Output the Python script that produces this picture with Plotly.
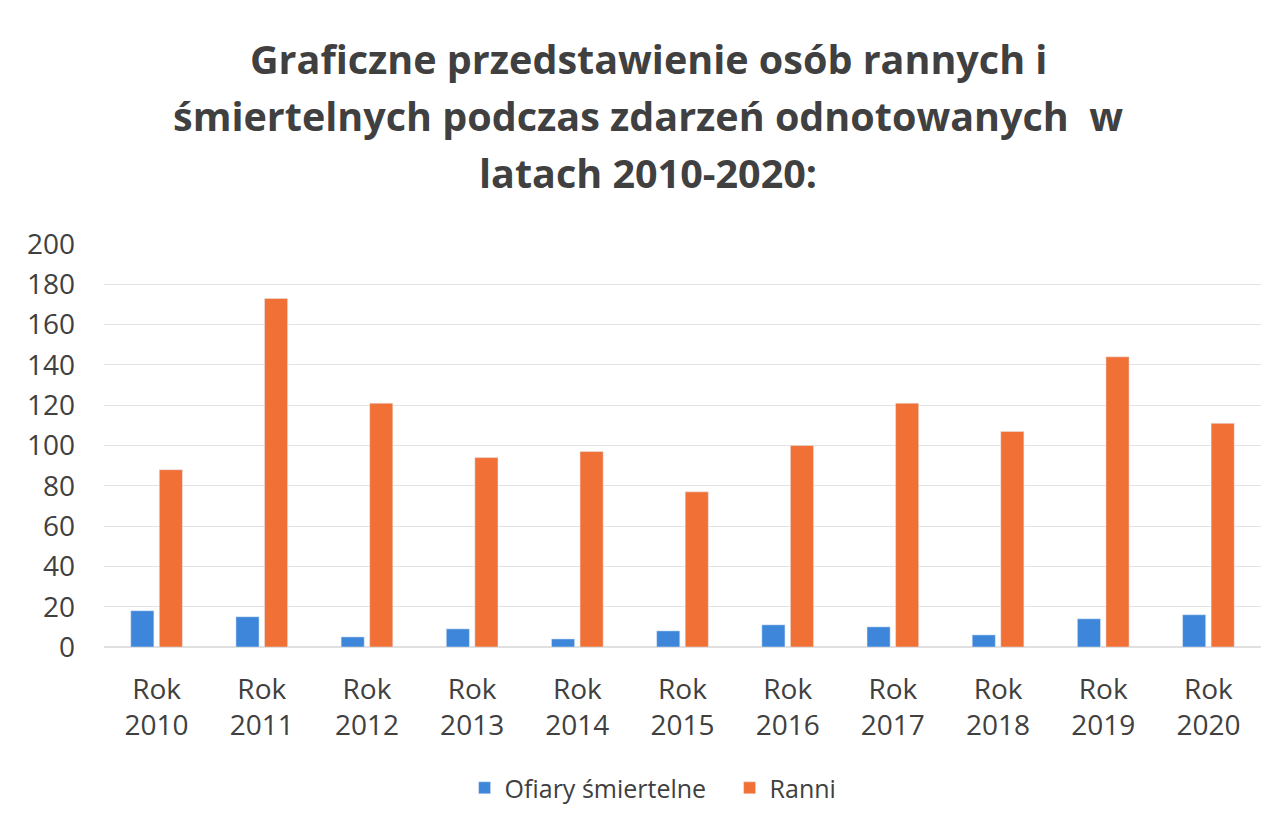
import plotly.graph_objects as go

categories = ["Rok<br>2010", "Rok<br>2011", "Rok<br>2012", "Rok<br>2013", "Rok<br>2014",
              "Rok<br>2015", "Rok<br>2016", "Rok<br>2017", "Rok<br>2018", "Rok<br>2019", "Rok<br>2020"]
ofiary = [18, 15, 5, 9, 4, 8, 11, 10, 6, 14, 16]
ranni = [88, 173, 121, 94, 97, 77, 100, 121, 107, 144, 111]
y_ticks = [0, 20, 40, 60, 80, 100, 120, 140, 160, 180, 200]
title_lines = [
    "Graficzne przedstawienie osób rannych i",
    "śmiertelnych podczas zdarzeń odnotowanych  w",
    "latach 2010-2020:",
]

BLUE = "#3d86da"
ORANGE = "#f07036"
TEXT = "#404040"
FONT = "Open Sans"

W, H = 1261, 812
L, R, T, B = 96, 8, 236, 173
plot_h = H - T - B

fig = go.Figure()
fig.add_trace(go.Bar(x=categories, y=ofiary, name="Ofiary śmiertelne", marker_color=BLUE))
fig.add_trace(go.Bar(x=categories, y=ranni, name="Ranni", marker_color=ORANGE))

# title lines (figure-pixel centres converted to paper coords)
line_centres = [51, 108, 165]
for txt, yc in zip(title_lines, line_centres):
    fig.add_annotation(
        text=txt, xref="paper", yref="paper",
        x=0.4705, y=(H - B - yc) / plot_h, xanchor="center", yanchor="middle",
        showarrow=False, font=dict(family=FONT, size=39.5, color=TEXT, weight="bold"),
    )

fig.update_layout(
    width=W, height=H,
    paper_bgcolor="white", plot_bgcolor="white",
    margin=dict(l=L, r=R, t=T, b=B, autoexpand=False),
    barmode="group", bargap=0.457, bargroupgap=0.19,
    font=dict(family=FONT, color=TEXT),
    legend=dict(
        orientation="h", x=0.5407, xanchor="center", y=-0.35, yanchor="middle",
        font=dict(family=FONT, size=25, color=TEXT),
        traceorder="normal", entrywidth=220, entrywidthmode="pixels",
    ),
    showlegend=True,
)
fig.update_yaxes(
    range=[0, 200], tickvals=y_ticks, showgrid=True, gridcolor="#e3e3e3", gridwidth=1,
    zeroline=True, zerolinecolor="#e0e0e0", showline=False, automargin=False,
    tickfont=dict(family=FONT, size=28, color=TEXT), ticks="", ticklabelstandoff=28,
)
fig.update_xaxes(
    showgrid=False, showline=False, ticks="", automargin=False,
    tickfont=dict(family=FONT, size=28, color=TEXT), ticklabelstandoff=23,
)

fig.write_html("out.html")
